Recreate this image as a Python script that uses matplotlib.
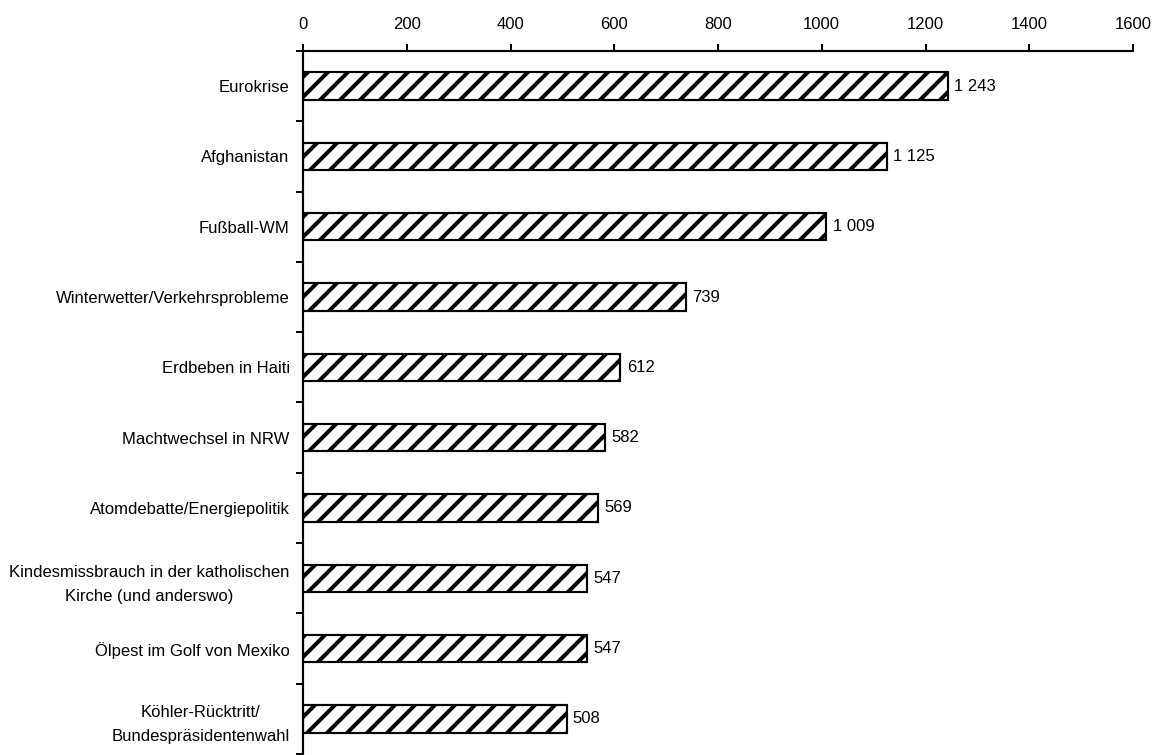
import matplotlib
matplotlib.use("Agg")
import matplotlib.pyplot as plt
import numpy as np

plt.rcParams['font.family'] = ['Liberation Sans', 'DejaVu Sans']
plt.rcParams['hatch.linewidth'] = 2.4
plt.rcParams['hatch.color'] = 'black'

topics = [
    "Eurokrise",
    "Afghanistan",
    "Fußball-WM",
    "Winterwetter/Verkehrsprobleme",
    "Erdbeben in Haiti",
    "Machtwechsel in NRW",
    "Atomdebatte/Energiepolitik",
    "Kindesmissbrauch in der katholischen\nKirche (und anderswo)",
    "Ölpest im Golf von Mexiko",
    "Köhler-Rücktritt/\nBundespräsidentenwahl",
]
counts = [1243, 1125, 1009, 739, 612, 582, 569, 547, 547, 508]
x_ticks = [0, 200, 400, 600, 800, 1000, 1200, 1400, 1600]

dpi = 120
fs = 10
fig = plt.figure(figsize=(1152 / dpi, 755 / dpi), dpi=dpi)
ax = fig.add_axes([303 / 1152, 1 / 755, (1133 - 303) / 1152, (754 - 51) / 755])

pos = np.arange(len(topics))
ax.barh(pos, counts, height=0.39, color='white', edgecolor='black',
        linewidth=1.3, hatch='//')

for y, v in zip(pos, counts):
    ax.text(v + 12, y, f"{v:,}".replace(",", " "), va='center', ha='left',
            fontsize=fs)

ax.set_xlim(0, 1600)
ax.set_ylim(len(topics) - 0.5, -0.5)

ax.xaxis.tick_top()
ax.set_xticks(x_ticks)
ax.set_xticklabels([str(t) for t in x_ticks], fontsize=fs)
ax.tick_params(axis='x', direction='out', length=4.5, width=1.2, pad=7)

ax.set_yticks(np.arange(-0.5, len(topics), 1.0))
ax.set_yticklabels([])
ax.tick_params(axis='y', which='major', direction='out', length=4, width=1.2)
ax.set_yticks(pos, minor=True)
ax.set_yticklabels(topics, minor=True, fontsize=fs, ha='right',
                   multialignment='center', linespacing=1.75)
ax.tick_params(axis='y', which='minor', length=0, pad=8)

for side in ('right', 'bottom'):
    ax.spines[side].set_visible(False)
for side in ('top', 'left'):
    ax.spines[side].set_linewidth(1.3)
ax.spines['left'].set_bounds(len(topics) - 0.5, -0.5)

fig.savefig("out.png", dpi=dpi)
